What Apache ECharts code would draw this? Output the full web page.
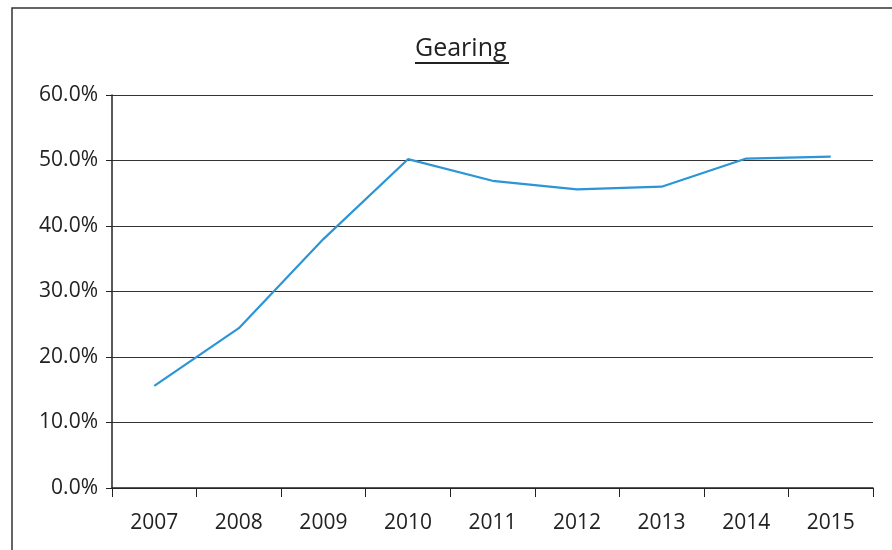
<!DOCTYPE html>
<html>
<head>
<meta charset="utf-8">
<title>Gearing</title>
<script src="https://cdn.jsdelivr.net/npm/echarts@6/dist/echarts.min.js"></script>
<style>
	html, body { margin: 0; padding: 0; background: #fff; }
	#GearingLine { width: 892px; height: 550px; }
</style>
</head>
<body>
<div id="GearingLine"></div>
<script>
// 年份
var years = ['2007', '2008', '2009', '2010', '2011', '2012', '2013', '2014', '2015'];
// 杠杆比率 (%)
var gearing = [15.6, 24.4, 38.0, 50.2, 46.9, 45.6, 46.0, 50.3, 50.6];
// y轴刻度
var yMin = 0;
var yMax = 60;
var yStep = 10;

var fontName = '"Open Sans", "Noto Sans", sans-serif';

function DrawGearingLine(xAxisData, yAxisData) {
	var dom = document.getElementById('GearingLine');
	var GearingLine = echarts.init(dom, null, { renderer: 'canvas' });

	var option = {
		backgroundColor: '#ffffff',
		animation: false,
		title: {
			text: 'Gearing',
			left: 415,
			top: 36,
			padding: 0,
			textStyle: {
				fontFamily: fontName,
				fontSize: 25,
				fontWeight: 'normal',
				color: '#222'
			}
		},
		// 外框和标题下划线
		graphic: [{
			type: 'rect',
			shape: { x: 12, y: 8, width: 900, height: 560 },
			style: { fill: 'none', stroke: '#333', lineWidth: 1.5 },
			silent: true
		}, {
			type: 'line',
			shape: { x1: 415, y1: 63, x2: 509, y2: 63 },
			style: { stroke: '#222', lineWidth: 2 },
			silent: true
		}],
		grid: {
			left: 112,
			right: 19,
			top: 95,
			bottom: 62
		},
		xAxis: {
			type: 'category',
			boundaryGap: true,
			data: xAxisData,
			axisLine: { lineStyle: { color: '#222', width: 1.5 } },
			axisTick: { show: true, inside: false, length: 9, lineStyle: { color: '#222' } },
			axisLabel: {
				margin: 25,
				fontFamily: fontName,
				fontSize: 21,
				color: '#222'
			}
		},
		yAxis: {
			type: 'value',
			min: yMin,
			max: yMax,
			interval: yStep,
			axisLine: { show: true, lineStyle: { color: '#222', width: 1.5 } },
			axisTick: { show: true, length: 6, lineStyle: { color: '#222' } },
			splitLine: { lineStyle: { color: '#333', width: 1.2 } },
			axisLabel: {
				margin: 14,
				fontFamily: fontName,
				fontSize: 21,
				color: '#222',
				formatter: function(v) {
					return v.toFixed(1) + '%';
				}
			}
		},
		series: [{
			name: 'Gearing',
			type: 'line',
			data: yAxisData,
			symbol: 'none',
			lineStyle: { color: '#2b95d6', width: 2.2 },
			itemStyle: { color: '#2b95d6' }
		}]
	};

	GearingLine.setOption(option);
}

DrawGearingLine(years, gearing);
</script>
</body>
</html>
